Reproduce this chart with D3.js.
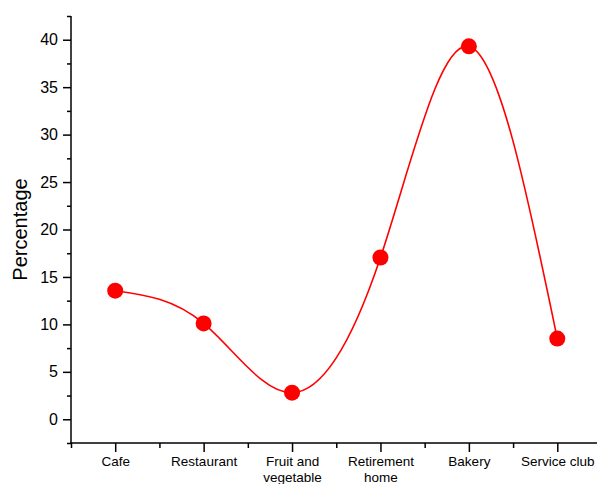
<!DOCTYPE html>
<html>
<head>
<meta charset="utf-8">
<script src="https://cdn.jsdelivr.net/npm/d3@7"></script>
<style>
  html, body { margin: 0; padding: 0; background: #fff; }
  svg { display: block; font-family: "Liberation Sans", Arial, sans-serif; }
</style>
</head>
<body>
<svg id="chart" width="597" height="484"></svg>
<script>
// Share of respondents by venue type
const categories = ["Cafe", "Restaurant", "Fruit and\nvegetable", "Retirement\nhome", "Bakery", "Service club"];
const percentages = [13.55, 10.1, 2.8, 17.05, 39.3, 8.5];
const yTickValues = [0, 5, 10, 15, 20, 25, 30, 35, 40];
const yMinorValues = [-2.5, 2.5, 7.5, 12.5, 17.5, 22.5, 27.5, 32.5, 37.5, 42.5];

const svg = d3.select("#chart");

const x = d3.scaleLinear().domain([-0.5, 5.5]).range([71, 601.5]);
const y = d3.scaleLinear().domain([-2.5, 42.5]).range([443, 16]);

const axisColor = "#000";

// y axis: minor ticks, then major ticks with labels
svg.append("g")
  .attr("transform", "translate(71,0)")
  .call(d3.axisLeft(y).tickValues(yMinorValues).tickSize(4).tickFormat(""))
  .call(g => g.select(".domain").remove())
  .call(g => g.selectAll("line").attr("stroke", axisColor).attr("stroke-width", 1.5));

svg.append("g")
  .attr("transform", "translate(71,0)")
  .call(d3.axisLeft(y).tickValues(yTickValues).tickSize(8).tickPadding(5).tickSizeOuter(0))
  .call(g => g.select(".domain").remove())
  .call(g => g.selectAll("line").attr("stroke", axisColor).attr("stroke-width", 1.5))
  .call(g => g.selectAll("text").attr("font-size", 16).attr("fill", "#000")
    .attr("font-family", "'Liberation Sans', Arial, sans-serif"));

// x axis: minor ticks between categories, major ticks at categories
const xMinor = d3.range(-0.5, 6, 1);
svg.append("g")
  .attr("transform", "translate(0,443)")
  .call(d3.axisBottom(x).tickValues(xMinor).tickSize(5).tickFormat(""))
  .call(g => g.select(".domain").remove())
  .call(g => g.selectAll("line").attr("stroke", axisColor).attr("stroke-width", 1.5));

const xAxis = svg.append("g")
  .attr("transform", "translate(0,443)")
  .call(d3.axisBottom(x).tickValues(d3.range(categories.length)).tickSize(9).tickFormat(""))
  .call(g => g.select(".domain").remove())
  .call(g => g.selectAll("line").attr("stroke", axisColor).attr("stroke-width", 1.5));

xAxis.selectAll(".tick").each(function(d) {
  const lines = categories[d].split("\n");
  const t = d3.select(this).append("text")
    .attr("fill", "#000")
    .attr("font-size", 13.5)
    .attr("text-anchor", "middle")
    .attr("font-family", "'Liberation Sans', Arial, sans-serif");
  lines.forEach((s, i) => {
    t.append("tspan").attr("x", 0).attr("y", 23 + i * 15.5).text(s);
  });
});

// axis lines
svg.append("line")
  .attr("x1", 71).attr("x2", 71).attr("y1", y(42.5)).attr("y2", 443.75)
  .attr("stroke", axisColor).attr("stroke-width", 1.5);
svg.append("line")
  .attr("x1", 70.25).attr("x2", 601.5).attr("y1", 443).attr("y2", 443)
  .attr("stroke", axisColor).attr("stroke-width", 1.5);

// y axis title
svg.append("text")
  .attr("transform", `translate(27,${y(20)}) rotate(-90)`)
  .attr("text-anchor", "middle")
  .attr("font-size", 20)
  .attr("fill", "#000")
  .text("Percentage");

// spline through the points
const pts = percentages.map((v, i) => [x(i), y(v)]);
svg.append("path")
  .attr("d", d3.line().curve(d3.curveNatural)(pts))
  .attr("fill", "none")
  .attr("stroke", "#ff0000")
  .attr("stroke-width", 1.6);

svg.selectAll("circle.pt")
  .data(percentages)
  .join("circle")
  .attr("class", "pt")
  .attr("cx", (d, i) => x(i))
  .attr("cy", d => y(d))
  .attr("r", 8)
  .attr("fill", "#ff0000");
</script>
</body>
</html>
